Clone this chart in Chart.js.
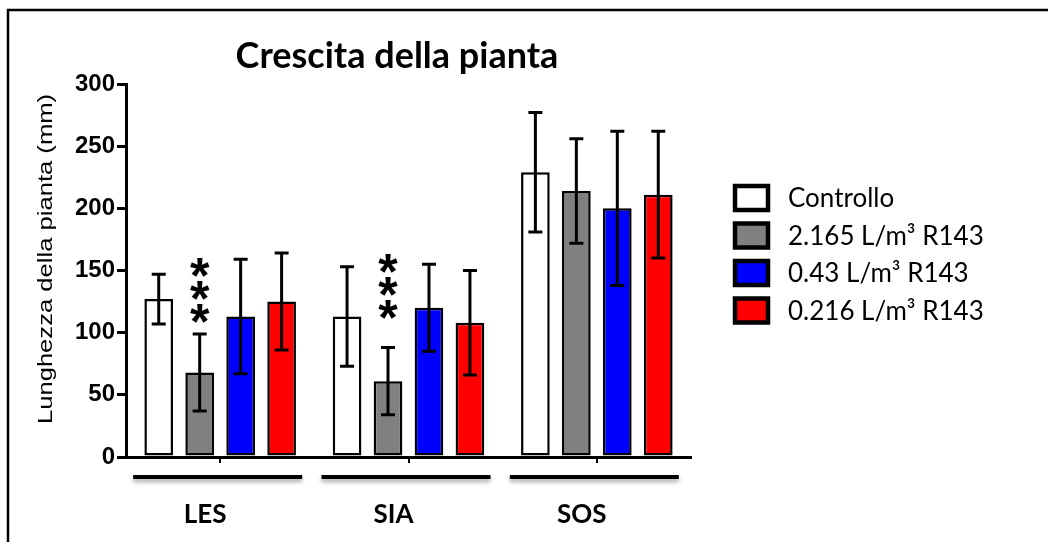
<!DOCTYPE html>
<html>
<head>
<meta charset="utf-8">
<script src="https://cdn.jsdelivr.net/npm/chart.js@4.4.1/dist/chart.umd.min.js"></script>
<style>
html, body { margin: 0; padding: 0; background: #fff; }
#wrap { position: relative; width: 1048px; height: 542px; }
</style>
</head>
<body>
<div id="wrap"><canvas id="chart" width="1048" height="542"></canvas></div>
<script>
'use strict';

/* DATA */
const groups = ['LES', 'SIA', 'SOS'];
const seriesNames = ['Controllo', '2.165 L/m³ R143', '0.43 L/m³ R143', '0.216 L/m³ R143'];
const seriesColors = ['#ffffff', '#808080', '#0000ff', '#ff0000'];
const controllo = [127, 113, 229];
const dose2165 = [68, 61, 214];
const dose043 = [113, 120, 200];
const dose0216 = [125, 108, 211];
const errControllo = [20, 40, 48];
const err2165 = [31, 27, 42];
const err043 = [46, 35, 62];
const err0216 = [39, 42, 51];
const yTicks = [0, 50, 100, 150, 200, 250, 300];
const stars = ['***', '***', ''];      // significance marks on the 2.165 series
const starBase = [118, 121, 0];        // value where the star stack starts

const values = [controllo, dose2165, dose043, dose0216];
const errors = [errControllo, err2165, err043, err0216];

/* FRAME, TITLE, Y TITLE */
const framePlugin = {
  id: 'frame',
  beforeDraw(chart) {
    const c = chart.ctx;
    c.save();
    c.fillStyle = '#fff';
    c.fillRect(0, 0, chart.width, chart.height);
    c.strokeStyle = '#000';
    c.lineWidth = 2.5;
    c.beginPath();
    c.moveTo(8, chart.height);
    c.lineTo(8, 10);
    c.lineTo(chart.width, 10);
    c.stroke();
    c.restore();
  },
  afterDraw(chart) {
    const c = chart.ctx;
    c.save();
    c.fillStyle = '#000';
    c.font = 'bold 36px Lato';
    c.textAlign = 'center';
    c.textBaseline = 'alphabetic';
    c.fillText('Crescita della pianta', 397, 68);
    // axis title, a bit stretched along its length like the source
    c.translate(46, 259);
    c.rotate(-Math.PI / 2);
    c.scale(1.28, 1);
    c.font = '20px "Liberation Sans"';
    c.textBaseline = 'middle';
    c.fillText('Lunghezza della pianta (mm)', 0, 0);
    c.restore();
  }
};

/* ERROR BARS, STARS, GROUP LINES, LEGEND */
const marksPlugin = {
  id: 'marks',
  afterDatasetsDraw(chart) {
    const c = chart.ctx;
    const y = chart.scales.y;
    const x = chart.scales.x;
    c.save();
    c.strokeStyle = '#000';
    c.lineWidth = 3;
    values.forEach((vals, di) => {
      const meta = chart.getDatasetMeta(di);
      meta.data.forEach((bar, i) => {
        const top = y.getPixelForValue(vals[i] + errors[di][i]);
        const bot = y.getPixelForValue(vals[i] - errors[di][i]);
        c.beginPath();
        c.moveTo(bar.x, top); c.lineTo(bar.x, bot);
        c.moveTo(bar.x - 7, top); c.lineTo(bar.x + 7, top);
        c.moveTo(bar.x - 7, bot); c.lineTo(bar.x + 7, bot);
        c.stroke();
      });
    });
    // significance stars above the 2.165 bars
    const meta1 = chart.getDatasetMeta(1);
    c.fillStyle = '#000';
    c.font = 'bold 50px "Liberation Sans"';
    c.textAlign = 'center';
    c.textBaseline = 'middle';
    stars.forEach((s, i) => {
      if (!s) return;
      const bx = meta1.data[i].x;
      const base = y.getPixelForValue(starBase[i]);
      for (let k = 0; k < s.length; k++) {
        c.fillText('*', bx, base + 15 - k * 23);
      }
    });
    // group lines below the axis
    c.lineWidth = 4;
    c.shadowColor = 'rgba(0,0,0,0.35)';
    c.shadowBlur = 4;
    c.shadowOffsetY = 3;
    groups.forEach((g, i) => {
      const cx = x.getPixelForValue(i);
      c.beginPath();
      c.moveTo(cx - 87, 477);
      c.lineTo(cx + 82, 477);
      c.stroke();
    });
    c.restore();
  },
  afterDraw(chart) {
    const c = chart.ctx;
    c.save();
    c.font = '26px Lato';
    c.textAlign = 'left';
    c.textBaseline = 'middle';
    seriesNames.forEach((name, i) => {
      const cy = 198 + i * 37.5;
      c.fillStyle = seriesColors[i];
      c.fillRect(735, cy - 12, 33, 24);
      c.strokeStyle = '#000';
      c.lineWidth = 4.5;
      c.strokeRect(735, cy - 12, 33, 24);
      c.fillStyle = '#000';
      c.fillText(name, 788, cy + 1);
    });
    c.restore();
  }
};

const datasets = values.map((vals, i) => ({
  label: seriesNames[i],
  data: vals,
  backgroundColor: seriesColors[i],
  borderColor: '#000',
  borderWidth: 2.5,
  borderSkipped: false,
  categoryPercentage: 0.87,
  barPercentage: 0.7
}));

new Chart(document.getElementById('chart'), {
  type: 'bar',
  data: { labels: groups, datasets },
  options: {
    responsive: false,
    animation: false,
    layout: { padding: { left: 0, right: 357, top: 84, bottom: 0 } },
    plugins: {
      legend: { display: false },
      title: { display: false },
      tooltip: { enabled: false }
    },
    scales: {
      x: {
        afterFit: s => { s.height = 85; },
        grid: { display: true, offset: false, drawOnChartArea: false, tickLength: 6, color: '#000', lineWidth: 2 },
        border: { display: true, color: '#000', width: 3 },
        ticks: {
          color: '#000',
          font: { family: 'Lato', weight: 'bold', size: 26 },
          padding: 36,
          labelOffset: -15
        }
      },
      y: {
        min: yTicks[0],
        max: yTicks[yTicks.length - 1],
        afterFit: s => { s.width = 126; },
        grid: { display: true, drawOnChartArea: false, tickLength: 9, color: '#000', lineWidth: 3 },
        border: { display: true, color: '#000', width: 3 },
        ticks: {
          stepSize: yTicks[1] - yTicks[0],
          color: '#000',
          padding: 2,
          font: { family: 'Liberation Sans', weight: 'bold', size: 24 }
        },
        title: { display: false }
      }
    }
  },
  plugins: [framePlugin, marksPlugin]
});
</script>
</body>
</html>
